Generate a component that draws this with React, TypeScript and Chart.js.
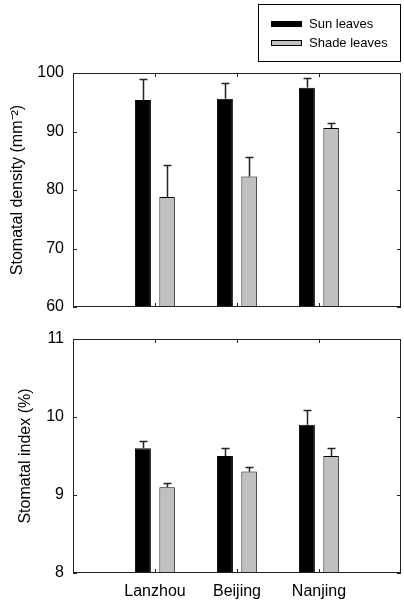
import React, { useEffect, useRef } from 'react';
import { Chart, registerables } from 'chart.js';

Chart.register(...registerables);
Chart.defaults.font.family = "'Liberation Sans', Arial, sans-serif";
Chart.defaults.color = '#000';

const categories = ['Lanzhou', 'Beijing', 'Nanjing'];
const seriesNames = ['Sun leaves', 'Shade leaves'];
const seriesColors = ['#000000', '#c0c0c0'];

const sunDensity = [95.4, 95.6, 97.5];
const sunDensityErr = [3.6, 2.7, 1.7];
const shadeDensity = [78.8, 82.3, 90.6];
const shadeDensityErr = [5.4, 3.4, 0.9];

const sunIndex = [9.6, 9.5, 9.9];
const sunIndexErr = [0.09, 0.1, 0.19];
const shadeIndex = [9.1, 9.3, 9.5];
const shadeIndexErr = [0.06, 0.06, 0.1];

const densityTicks = [60, 70, 80, 90, 100];
const indexTicks = [8, 9, 10, 11];

const densityTitle = 'Stomatal density (mm\u207B\u00B2)';
const indexTitle = 'Stomatal index (%)';

const labels = ['', ...categories, ''];
const pad = (arr: number[]) => [null, ...arr, null];

const LINE = '#222';

const framePlugin = {
  id: 'frameTicks',
  afterDatasetsDraw(chart: any) {
    const { ctx, chartArea: a, scales } = chart;
    const x = scales.x;
    const y = scales.y;
    ctx.save();
    chart.data.datasets.forEach((ds: any, di: number) => {
      const meta = chart.getDatasetMeta(di);
      meta.data.forEach((bar: any, j: number) => {
        const v = ds.data[j];
        const e = ds.errorBars ? ds.errorBars[j] : null;
        if (v == null || e == null) return;
        const px = Math.round(bar.x) + 0.5;
        const yTop = y.getPixelForValue(v);
        const yErr = Math.round(y.getPixelForValue(v + e)) + 0.5;
        ctx.strokeStyle = LINE;
        ctx.lineWidth = 1.5;
        ctx.beginPath();
        ctx.moveTo(px, yTop);
        ctx.lineTo(px, yErr);
        ctx.stroke();
        ctx.beginPath();
        ctx.moveTo(px - 4, yErr);
        ctx.lineTo(px + 4, yErr);
        ctx.stroke();
      });
    });
    ctx.strokeStyle = LINE;
    ctx.lineWidth = 1;
    ctx.strokeRect(a.left + 0.5, a.top + 0.5, a.right - a.left - 1, a.bottom - a.top - 1);
    ctx.beginPath();
    y.ticks.forEach((t: any) => {
      const py = Math.round(y.getPixelForValue(t.value)) + 0.5;
      ctx.moveTo(a.left, py);
      ctx.lineTo(a.left + 4, py);
      ctx.moveTo(a.right, py);
      ctx.lineTo(a.right - 4, py);
    });
    for (let i = 1; i <= categories.length; i++) {
      const px = Math.round(x.getPixelForValue(i)) + 0.5;
      ctx.moveTo(px, a.top);
      ctx.lineTo(px, a.top + 4);
      ctx.moveTo(px, a.bottom);
      ctx.lineTo(px, a.bottom - 4);
    }
    ctx.stroke();
    ctx.restore();
  },
};

const legendPlugin = {
  id: 'boxLegend',
  afterDraw(chart: any) {
    const { ctx } = chart;
    ctx.save();
    ctx.strokeStyle = '#000';
    ctx.lineWidth = 1;
    ctx.strokeRect(258.5, 4.5, 142, 57);
    ctx.font = "13px 'Liberation Sans', Arial, sans-serif";
    ctx.textBaseline = 'middle';
    ctx.textAlign = 'left';
    chart.data.datasets.forEach((ds: any, i: number) => {
      const yy = 21 + i * 19;
      ctx.fillStyle = ds.backgroundColor;
      ctx.fillRect(271, yy, 31, 6);
      ctx.strokeStyle = '#000';
      ctx.strokeRect(271.5, yy + 0.5, 30, 5);
      ctx.fillStyle = '#000';
      ctx.fillText(ds.label, 309, yy + 3.5);
    });
    ctx.restore();
  },
};

function makeConfig(
  sun: number[], sunErr: number[], shade: number[], shadeErr: number[],
  ticks: number[], title: string, titlePad: number, showX: boolean,
  padding: any, withLegend: boolean
): any {
  return {
    type: 'bar',
    data: {
      labels,
      datasets: [
        {
          label: seriesNames[0], data: pad(sun), errorBars: pad(sunErr),
          backgroundColor: seriesColors[0], borderColor: '#000', borderWidth: 1,
          categoryPercentage: 0.59, barPercentage: 0.66,
        },
        {
          label: seriesNames[1], data: pad(shade), errorBars: pad(shadeErr),
          backgroundColor: seriesColors[1], borderColor: '#000', borderWidth: 1,
          categoryPercentage: 0.59, barPercentage: 0.64,
        },
      ],
    },
    options: {
      responsive: false,
      animation: false,
      devicePixelRatio: 1,
      layout: { padding },
      plugins: { legend: { display: false }, tooltip: { enabled: false } },
      scales: {
        x: {
          type: 'category',
          offset: false,
          display: showX,
          grid: { drawOnChartArea: false, drawTicks: false },
          border: { display: false },
          ticks: { color: '#000', font: { size: 16 }, padding: 9, autoSkip: false, maxRotation: 0 },
          afterFit: (s: any) => { s.height = showX ? 34 : 0; s.paddingLeft = 0; s.paddingRight = 0; },
        },
        y: {
          min: ticks[0],
          max: ticks[ticks.length - 1],
          grid: { drawOnChartArea: false, drawTicks: false },
          border: { display: false },
          ticks: { stepSize: ticks[1] - ticks[0], color: '#000', font: { size: 16 }, padding: 9 },
          title: { display: true, text: title, color: '#000', font: { size: 16 }, padding: { top: titlePad, bottom: 0 } },
          afterFit: (s: any) => { s.width = 73; s.paddingTop = 0; s.paddingBottom = 0; },
        },
      },
    },
    plugins: withLegend ? [framePlugin, legendPlugin] : [framePlugin],
  };
}

export default function App() {
  const topRef = useRef<HTMLCanvasElement>(null);
  const botRef = useRef<HTMLCanvasElement>(null);
  useEffect(() => {
    const c1 = new Chart(topRef.current as any, makeConfig(
      sunDensity, sunDensityErr, shadeDensity, shadeDensityErr, densityTicks,
      densityTitle, 8, false, { top: 73, right: 3, bottom: 13, left: 0 }, true));
    const c2 = new Chart(botRef.current as any, makeConfig(
      sunIndex, sunIndexErr, shadeIndex, shadeIndexErr, indexTicks,
      indexTitle, 16, true, { top: 19, right: 3, bottom: 0, left: 0 }, false));
    return () => { c1.destroy(); c2.destroy(); };
  }, []);
  return (
    <div style={{ position: 'absolute', left: 0, top: 0, width: 404, height: 607, background: '#fff' }}>
      <canvas ref={topRef} width={404} height={320}
        style={{ position: 'absolute', left: 0, top: 0, width: 404, height: 320, display: 'block' }} />
      <canvas ref={botRef} width={404} height={287}
        style={{ position: 'absolute', left: 0, top: 320, width: 404, height: 287, display: 'block' }} />
    </div>
  );
}
